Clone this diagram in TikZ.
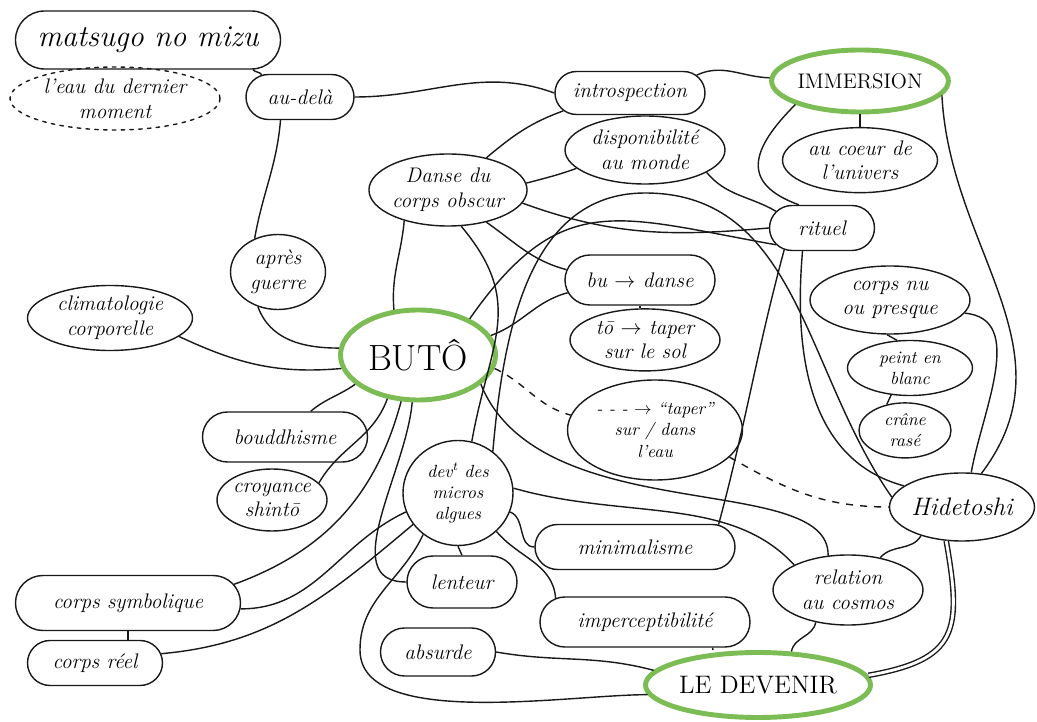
\documentclass[tikz,border=0pt]{standalone}
\usepackage{fontspec}
\usepackage{tikz}
\usetikzlibrary{positioning,shapes.geometric,shapes.misc}
\definecolor{hubgreen}{RGB}{124,188,84}

\begin{document}
\begin{tikzpicture}[
    blob/.style={draw=black!90, line width=0.8pt, ellipse, inner sep=0pt, align=center, font=\large\itshape},
    pill/.style={draw=black!90, line width=0.8pt, rounded rectangle, inner sep=0pt, align=center, font=\large\itshape},
    hub/.style={draw=hubgreen, line width=2.8pt, ellipse, inner sep=0pt, align=center, font=\Large},
    sz/.style 2 args={minimum width=#1cm, minimum height=#2cm},
    link/.style={draw=black!90, line width=0.8pt},
    dlink/.style={link, dash pattern=on 4pt off 4pt}
]
\path[use as bounding box, fill=white] (0,0) rectangle (20.74,-14.44);

\node[pill, sz={5.3}{1.16}, font=\LARGE\itshape] (matsugo) at (2.96,-0.80) {matsugo no mizu};
\node[blob, sz={4.2}{1.26}, dash pattern=on 2pt off 3pt, line cap=round] (eau) at (2.3,-1.97) {l'eau du dernier\\moment};
\node[pill, sz={2.16}{0.9}] (audela) at (6.0,-1.94) {au-delà};
\node[pill, sz={3.0}{0.86}] (intro) at (12.6,-1.86) {introspection};
\node[hub, sz={3.4}{1.24}, font=\large] (immersion) at (17.2,-1.62) {IMMERSION};
\node[blob, sz={3.2}{1.36}] (dispo) at (12.9,-3.0) {disponibilité\\au monde};
\node[blob, sz={3.1}{1.44}] (danse) at (8.96,-3.8) {Danse du\\corps obscur};
\node[blob, sz={3.1}{1.3}, below=0.25cm of immersion] (coeur) {au coeur de\\l'univers};
\node[pill, sz={2.1}{0.9}] (rituel) at (16.44,-4.56) {rituel};
\node[blob, sz={1.9}{1.5}] (apres) at (5.56,-5.44) {après\\guerre};
\node[blob, sz={3.3}{1.3}] (clima) at (2.2,-6.36) {climatologie\\corporelle};
\node[hub, sz={3.1}{1.8}, font=\huge] (buto) at (8.36,-7.1) {BUTÔ};
\node[pill, sz={3.0}{1.0}] (bu) at (12.8,-5.6) {bu $\rightarrow$ danse};
\node[blob, sz={3.0}{1.24}, below=0.05cm of bu, xshift=0.1cm] (tap) {tō $\rightarrow$ taper\\sur le sol};
\node[blob, sz={3.2}{1.36}] (nu) at (17.8,-6.0) {corps nu\\ou presque};
\node[blob, sz={2.5}{1.1}, font=\itshape] (peint) at (18.2,-7.36) {peint en\\blanc};
\node[blob, sz={1.84}{1.1}, font=\itshape, below=0.12cm of peint, xshift=-0.1cm] (crane) {crâne\\rasé};
\node[pill, sz={3.3}{1.0}] (boudd) at (5.7,-8.74) {bouddhisme};
\node[blob, sz={2.2}{1.24}] (croy) at (5.44,-10.0) {croyance\\shintō};
\node[blob, sz={3.5}{2.0}, font=\itshape] (water) at (13.1,-8.6) {- - - $\rightarrow$ ``taper''\\sur / dans\\l'eau};
\node[blob, sz={2.2}{2.1}, font=\itshape] (devt) at (9.16,-9.86) {dev\textsuperscript{t} des\\micros\\algues};
\node[blob, sz={2.9}{1.36}, font=\Large\itshape] (hide) at (19.24,-10.14) {Hidetoshi};
\node[pill, sz={4.0}{0.9}] (mini) at (12.7,-10.94) {minimalisme};
\node[pill, sz={2.2}{1.04}] (lent) at (9.24,-11.64) {lenteur};
\node[pill, sz={4.5}{1.1}] (csym) at (2.56,-12.06) {corps symbolique};
\node[blob, sz={3.0}{1.4}] (rel) at (16.96,-11.8) {relation\\au cosmos};
\node[pill, sz={2.7}{0.9}] (creel) at (1.9,-13.26) {corps réel};
\node[pill, sz={2.3}{0.96}] (absu) at (8.76,-13.04) {absurde};
\node[pill, sz={4.2}{1.0}] (imper) at (12.9,-12.44) {imperceptibilité};
\node[hub, sz={4.5}{1.3}] (devenir) at (15.16,-13.7) {LE DEVENIR};

\draw[link] ([xshift=2.1cm]matsugo.south) to[out=-50,in=120] (audela.150);
\draw[link] (audela.east) to[out=0,in=160] (intro.west);
\draw[link] (audela.-130) to[out=-95,in=80] (apres.125);
\draw[link] (apres.-120) to[out=-70,in=180] (buto.175);
\draw[link] (clima.-15) to[out=-25,in=185] (buto.190);
\draw[link] (boudd.45) to[out=40,in=215] (buto.205);
\draw[link] (croy.20) to[out=60,in=-110] (buto.235);
\draw[link] (csym.10) to[out=20,in=-105] (buto.250);
\draw[link] (buto.263) to[out=-95,in=180] (lent.west);
\draw[link] (danse.-145) to[out=-95,in=95] (buto.118);
\draw[link] (danse.40) to[out=40,in=200] (intro.195);
\draw[link] (danse.5) to[out=15,in=200] (dispo.195);
\draw[link] (danse.-10) to[out=-20,in=185] (rituel.west);
\draw[link] (danse.-40) to[out=-35,in=165] (bu.172);
\draw[link] (danse.-70) to[out=-50,in=80,looseness=1.2] (devt.75);
\draw[link] (buto.15) to[out=20,in=195] (bu.190);
\draw[link] (buto.35) to[out=55,in=170,looseness=1.3] (rituel.200);
\draw[link] (bu.south) -- (bu.south |- tap.north);
\draw[link] (dispo.-20) to[out=-50,in=150] (rituel.160);
\draw[link] (intro.15) to[out=25,in=178] (immersion.178);
\draw[link] (immersion.south) -- (coeur.north);
\draw[link] (immersion.-160) to[out=-135,in=160,looseness=1.6] (rituel.135);
\draw[link] (immersion.-10) .. controls (19.0,-5.0) and (21.5,-7.0) .. (hide.60);
\draw[link] (nu.-10) to[out=-5,in=80] (hide.75);
\draw[link] (nu.-95) -- (peint.115);
\draw[link] (peint.-125) -- (crane.125);
\draw[link] (rituel.-130) to[out=-95,in=165] (hide.160);
\draw[link] (rituel.-150) to[out=-105,in=75] (mini.15);
\draw[link] (devt.50) to[out=85,in=180] (12.9,-3.86) to[out=0,in=125] (hide.172);
\draw[dlink] (buto.-10) to[out=-25,in=165] (water.170);
\draw[dlink] (water.-20) to[out=-30,in=180] (hide.west);
\draw[link] (buto.-25) .. controls (10.8,-10.6) and (16.6,-9.4) .. (rel.120);
\draw[link] (devt.5) .. controls (12.5,-10.4) and (14.6,-9.9) .. (rel.155);
\draw[link] (devt.-20) to[out=-20,in=180] (mini.west);
\draw[link] (devt.-45) to[out=-50,in=95] (imper.165);
\draw[link] (devt.south) -- (lent.north);
\draw[link] (devt.200) to[out=205,in=0] (csym.-3);
\draw[link] (devt.215) to[out=220,in=5] (creel.8);
\draw[link] (devt.-130) to[out=-115,in=90] (7.2,-13.0) to[out=-90,in=180,looseness=0.7] (devenir.185);
\draw[link] (absu.east) to[out=-10,in=165] (devenir.172);
\draw[link] ([xshift=1.35cm]imper.south) -- ([xshift=-0.9cm]devenir.north);
\draw[link] (rel.-135) to[out=-100,in=80] (devenir.45);
\draw[link] (rel.45) to[out=50,in=-120] (hide.-145);
\draw[link, double=white, double distance=1.6pt] (hide.-115) to[out=-80,in=10,looseness=1.5] (devenir.5);
\draw[link] (csym.south) -- (csym.south |- creel.north);
\end{tikzpicture}
\end{document}
